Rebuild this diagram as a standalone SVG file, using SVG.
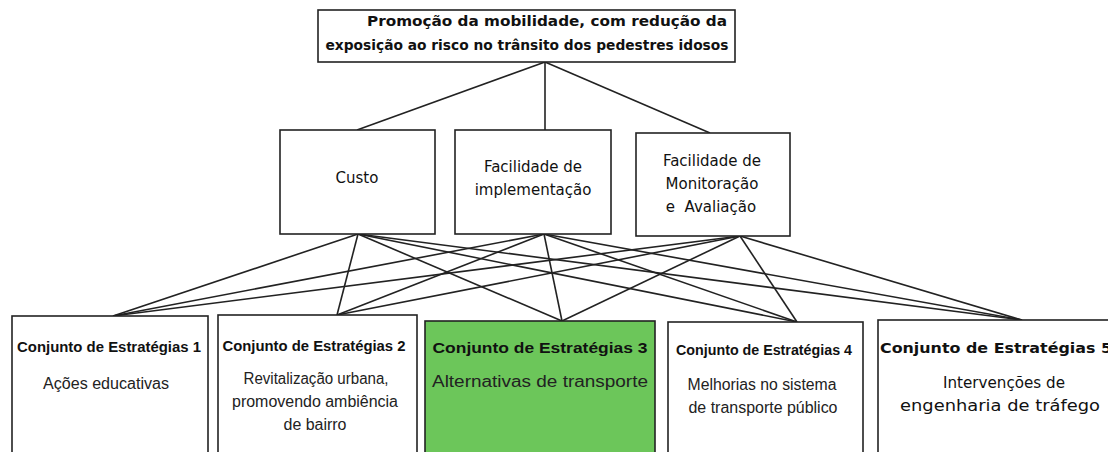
<svg xmlns="http://www.w3.org/2000/svg" width="1108" height="452" viewBox="0 0 1108 452">
<style>
.box{fill:#fff;stroke:#222;stroke-width:1.6}
.green{fill:#6cc65a;stroke:#222;stroke-width:1.6}
.ln{stroke:#222;stroke-width:1.6;fill:none}
.t{font-family:"DejaVu Sans",Verdana,sans-serif;font-weight:bold;font-size:14px;fill:#111;text-anchor:middle}
.m{font-family:"DejaVu Sans",Verdana,sans-serif;font-size:15px;fill:#111;text-anchor:middle}
.h{font-family:"Liberation Sans",Arial,sans-serif;font-weight:bold;font-size:14.5px;fill:#111;text-anchor:middle}
.b{font-family:"Liberation Sans",Arial,sans-serif;font-size:16px;fill:#222;text-anchor:middle}
</style>
<rect width="1108" height="452" fill="#fff"/>
<g id="connectors">
<line class="ln" x1="545" y1="62" x2="357" y2="130"/>
<line class="ln" x1="545" y1="62" x2="545" y2="130"/>
<line class="ln" x1="545" y1="62" x2="710" y2="133"/>
<line class="ln" x1="358" y1="234" x2="113" y2="316"/>
<line class="ln" x1="358" y1="234" x2="337" y2="315"/>
<line class="ln" x1="358" y1="234" x2="562" y2="321"/>
<line class="ln" x1="358" y1="234" x2="797" y2="322"/>
<line class="ln" x1="358" y1="234" x2="1022" y2="320"/>
<line class="ln" x1="544" y1="234" x2="113" y2="316"/>
<line class="ln" x1="544" y1="234" x2="337" y2="315"/>
<line class="ln" x1="544" y1="234" x2="562" y2="321"/>
<line class="ln" x1="544" y1="234" x2="797" y2="322"/>
<line class="ln" x1="544" y1="234" x2="1022" y2="320"/>
<line class="ln" x1="740" y1="236" x2="113" y2="316"/>
<line class="ln" x1="740" y1="236" x2="337" y2="315"/>
<line class="ln" x1="740" y1="236" x2="562" y2="321"/>
<line class="ln" x1="740" y1="236" x2="797" y2="322"/>
<line class="ln" x1="740" y1="236" x2="1022" y2="320"/>
</g>
<g id="goal">
<rect class="box" x="318" y="10" width="417" height="52"/>
<text class="t" x="547" y="26" textLength="360" lengthAdjust="spacingAndGlyphs">Promoção da mobilidade, com redução da</text>
<text class="t" x="527" y="50" textLength="403" lengthAdjust="spacingAndGlyphs">exposição ao risco no trânsito dos pedestres idosos</text>
</g>
<g id="custo">
<rect class="box" x="280" y="130" width="155" height="104"/>
<text class="m" x="357" y="183">Custo</text>
</g>
<g id="implementacao">
<rect class="box" x="455" y="130" width="156" height="104"/>
<text class="m" x="533" y="172">Facilidade de</text>
<text class="m" x="533" y="195">implementação</text>
</g>
<g id="monitoracao">
<rect class="box" x="636" y="133" width="154" height="103"/>
<text class="m" x="712" y="166">Facilidade de</text>
<text class="m" x="712" y="189">Monitoração</text>
<text class="m" x="711" y="212" xml:space="preserve">e  Avaliação</text>
</g>
<g id="estrategia1">
<rect class="box" x="12" y="316" width="196" height="140"/>
<text class="h" x="109" y="352" textLength="184" lengthAdjust="spacingAndGlyphs">Conjunto de Estratégias 1</text>
<text class="b" x="106" y="389" textLength="126" lengthAdjust="spacingAndGlyphs">Ações educativas</text>
</g>
<g id="estrategia2">
<rect class="box" x="218" y="315" width="199" height="141"/>
<text class="h" x="314" y="351" textLength="183" lengthAdjust="spacingAndGlyphs">Conjunto de Estratégias 2</text>
<text class="b" x="316" y="384" textLength="145" lengthAdjust="spacingAndGlyphs">Revitalização urbana,</text>
<text class="b" x="315" y="407" textLength="166" lengthAdjust="spacingAndGlyphs">promovendo ambiência</text>
<text class="b" x="315" y="430" textLength="63" lengthAdjust="spacingAndGlyphs">de bairro</text>
</g>
<g id="estrategia3">
<rect class="green" x="425" y="321" width="230" height="135"/>
<text class="h" x="540" y="353" textLength="215" lengthAdjust="spacingAndGlyphs">Conjunto de Estratégias 3</text>
<text class="b" x="540" y="387" textLength="216" lengthAdjust="spacingAndGlyphs">Alternativas de transporte</text>
</g>
<g id="estrategia4">
<rect class="box" x="668" y="322" width="195" height="134"/>
<text class="h" x="764" y="355" textLength="176" lengthAdjust="spacingAndGlyphs">Conjunto de Estratégias 4</text>
<text class="b" x="762" y="390" textLength="149" lengthAdjust="spacingAndGlyphs">Melhorias no sistema</text>
<text class="b" x="763" y="413" textLength="149" lengthAdjust="spacingAndGlyphs">de transporte público</text>
</g>
<g id="estrategia5">
<rect class="box" x="878" y="320" width="240" height="136"/>
<text class="t" x="996" y="353" textLength="232" lengthAdjust="spacingAndGlyphs" style="font-weight:bold;font-size:14px">Conjunto de Estratégias 5</text>
<text class="m" x="1004" y="388" textLength="122" lengthAdjust="spacingAndGlyphs">Intervenções de</text>
<text class="m" x="1000" y="411" textLength="200" lengthAdjust="spacingAndGlyphs">engenharia de tráfego</text>
</g>
</svg>
